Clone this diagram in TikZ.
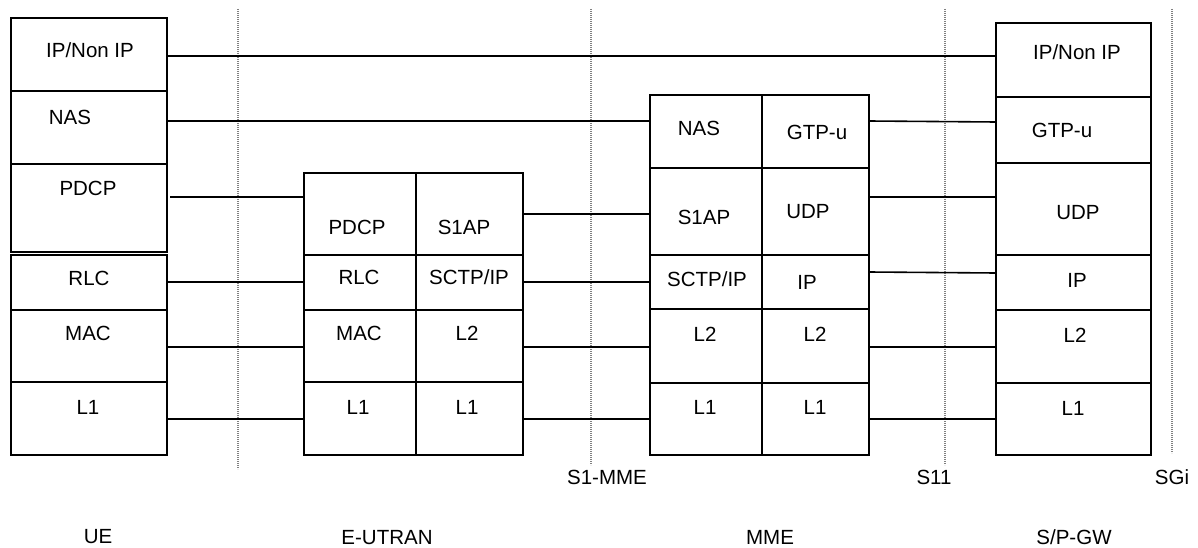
\documentclass[tikz,border=0pt]{standalone}
\usepackage{fontspec}
\setmainfont{Liberation Sans}
\begin{document}
\begin{tikzpicture}[x=1pt,y=-1pt,
  cell/.style={draw=black, line width=1.9pt, inner sep=0pt, outer sep=0pt},
  lab/.style={anchor=base, inner sep=0pt, font=\fontsize{20.5}{24}\selectfont},
  link/.style={draw=black, line width=1.6pt},
  iface/.style={draw=black!50, line width=2.2pt, dash pattern=on 1.1pt off 0.9pt}]
\useasboundingbox (0,0) rectangle (1198,548);
\newcommand{\cellbox}[5]{\node[cell, minimum width={(#4-#2)*1pt}, minimum height={(#5-#3)*1pt}] (#1) at ({(#2+#4)/2},{(#3+#5)/2}) {};}
\newcommand{\lab}[4]{\node[lab] (#1) at (#2,{#3+7.3}) {#4};}
% interface dotted lines
\coordinate (d1t) at (238,9);  \coordinate (d1b) at (238,469);
\coordinate (d2t) at (591,9);  \coordinate (d2b) at (591,465);
\coordinate (d3t) at (945,9);  \coordinate (d3b) at (945,465);
\coordinate (d4t) at (1172,9); \coordinate (d4b) at (1172,453);
\draw[iface] (d1t) -- (d1b);
\draw[iface] (d2t) -- (d2b);
\draw[iface] (d3t) -- (d3b);
\draw[iface] (d4t) -- (d4b);
% UE
\cellbox{ueIP}{11}{18}{167}{91}
\cellbox{ueNAS}{11}{91}{167}{164}
\cellbox{uePDCP}{11}{164}{167}{252}
\cellbox{ueRLC}{11}{255}{167}{310}
\cellbox{ueMAC}{11}{310}{167}{382}
\cellbox{ueL1}{11}{382}{167}{455}
% E-UTRAN
\cellbox{enPDCP}{304}{173}{416}{255}
\cellbox{enS1AP}{416}{173}{523}{255}
\cellbox{enRLC}{304}{255}{416}{310}
\cellbox{enSCTP}{416}{255}{523}{310}
\cellbox{enMAC}{304}{310}{416}{382}
\cellbox{enL2}{416}{310}{523}{382}
\cellbox{enL1a}{304}{382}{416}{455}
\cellbox{enL1b}{416}{382}{523}{455}
% MME
\cellbox{mmNAS}{650}{95}{762}{168}
\cellbox{mmGTP}{762}{95}{869}{168}
\cellbox{mmS1AP}{650}{168}{762}{255}
\cellbox{mmUDP}{762}{168}{869}{255}
\cellbox{mmSCTP}{650}{255}{762}{309}
\cellbox{mmIP}{762}{255}{869}{309}
\cellbox{mmL2a}{650}{309}{762}{383}
\cellbox{mmL2b}{762}{309}{869}{383}
\cellbox{mmL1a}{650}{383}{762}{455}
\cellbox{mmL1b}{762}{383}{869}{455}
% S/P-GW
\cellbox{sgIP}{996}{23}{1151}{97}
\cellbox{sgGTP}{996}{97}{1151}{163}
\cellbox{sgUDP}{996}{163}{1151}{255}
\cellbox{sgIPb}{996}{255}{1151}{310}
\cellbox{sgL2}{996}{310}{1151}{383}
\cellbox{sgL1}{996}{383}{1151}{455}
% connectors
\draw[link] (ueIP.east |- 0,56) -- (sgIP.west |- 0,56);
\draw[link] (ueNAS.east |- 0,121) -- (mmNAS.west |- 0,121);
\draw[link] ([xshift=3pt]uePDCP.east |- 0,197) -- (enPDCP.west |- 0,197);
\draw[link] (ueRLC.east |- 0,282) -- (enRLC.west |- 0,282);
\draw[link] (ueMAC.east |- 0,347) -- (enMAC.west |- 0,347);
\draw[link] (ueL1.east |- 0,419) -- (enL1a.west |- 0,419);
\draw[link] (enS1AP.east |- 0,214) -- (mmS1AP.west |- 0,214);
\draw[link] (enSCTP.east |- 0,282) -- (mmSCTP.west |- 0,282);
\draw[link] (enL2.east |- 0,347) -- (mmL2a.west |- 0,347);
\draw[link] (enL1b.east |- 0,419) -- (mmL1a.west |- 0,419);
\draw[link] (mmGTP.east |- 0,121) -- (sgGTP.west |- 0,122);
\draw[link] (mmUDP.east |- 0,197) -- (sgUDP.west |- 0,197);
\draw[link] (mmIP.east |- 0,272) -- (sgIPb.west |- 0,273);
\draw[link] (mmL2b.east |- 0,347) -- (sgL2.west |- 0,347);
\draw[link] (mmL1b.east |- 0,419) -- (sgL1.west |- 0,419);
% labels UE
\lab{tueIP}{90}{50}{IP/Non IP}
\lab{tueNAS}{70}{117}{NAS}
\lab{tuePDCP}{88}{188}{PDCP}
\lab{tueRLC}{89}{278}{RLC}
\lab{tueMAC}{88}{333}{MAC}
\lab{tueL1}{88}{407}{L1}
% labels E-UTRAN
\lab{tenPDCP}{357}{227}{PDCP}
\lab{tenS1AP}{464}{227}{S1AP}
\lab{tenRLC}{359}{277}{RLC}
\lab{tenSCTP}{469}{277}{SCTP/IP}
\lab{tenMAC}{359}{333}{MAC}
\lab{tenL2}{467}{333}{L2}
\lab{tenL1a}{358}{407}{L1}
\lab{tenL1b}{467}{407}{L1}
% labels MME
\lab{tmmNAS}{699}{128}{NAS}
\lab{tmmGTP}{817}{132}{GTP-u}
\lab{tmmS1AP}{704}{217}{S1AP}
\lab{tmmUDP}{808}{211}{UDP}
\lab{tmmSCTP}{707}{279}{SCTP/IP}
\lab{tmmIP}{807}{282}{IP}
\lab{tmmL2a}{705}{334}{L2}
\lab{tmmL2b}{815}{334}{L2}
\lab{tmmL1a}{705}{407}{L1}
\lab{tmmL1b}{815}{407}{L1}
% labels S/P-GW
\lab{tsgIP}{1077}{52}{IP/Non IP}
\lab{tsgGTP}{1062}{130}{GTP-u}
\lab{tsgUDP}{1078}{212}{UDP}
\lab{tsgIPb}{1077}{280}{IP}
\lab{tsgL2}{1075}{335}{L2}
\lab{tsgL1}{1073}{408}{L1}
% interface names
\lab{tS1MME}{607}{477}{S1-MME}
\lab{tS11}{934}{477}{S11}
\lab{tSGi}{1172}{477}{SGi}
% entity names
\lab{tUE}{98}{536}{UE}
\lab{tEUTRAN}{387}{537}{E-UTRAN}
\lab{tMME}{770}{537}{MME}
\lab{tSPGW}{1074}{537}{S/P-GW}
\end{tikzpicture}
\end{document}
